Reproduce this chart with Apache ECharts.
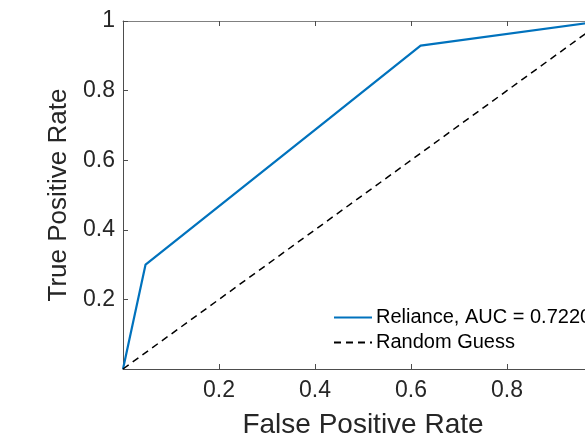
<!DOCTYPE html>
<html>
<head>
<meta charset="utf-8">
<script src="https://cdn.jsdelivr.net/npm/echarts@6/dist/echarts.min.js"></script>
<style>
html,body{margin:0;padding:0;background:#fff;overflow:hidden;width:585px;height:438px;}
#chart{width:640px;height:438px;}
</style>
</head>
<body>
<div id="chart"></div>
<script>
// ROC curve points
const fpr = [0, 0.047, 0.43, 0.62, 1];
const tpr = [0, 0.30, 0.72, 0.929, 1];
// Random guess diagonal
const guessX = [0, 1];
const guessY = [0, 1];
const seriesNames = ['Reliance, AUC = 0.7220', 'Random Guess'];
const xTitle = 'False Positive Rate';
const yTitle = 'True Positive Rate';

const font = '"Liberation Sans", Arial, sans-serif';
const txt = '#262626';
const axisCol = '#4d4d4d';

const chart = echarts.init(document.getElementById('chart'), null, {renderer: 'canvas'});
const fmt = v => (Math.abs(v) < 1e-9 ? '' : String(Math.round(v * 10) / 10));

chart.setOption({
  animation: false,
  backgroundColor: '#ffffff',
  grid: {left: 123, top: 21, width: 480, height: 348, containLabel: false, outerBoundsMode: 'none'},
  xAxis: [{
    type: 'value', min: 0, max: 1, interval: 0.2, position: 'bottom',
    name: xTitle, nameLocation: 'middle', nameGap: 56,
    nameTextStyle: {fontFamily: font, fontSize: 28, color: txt, verticalAlign: 'middle'},
    axisLine: {show: true, lineStyle: {color: axisCol, width: 1}},
    axisTick: {show: true, inside: true, length: 5, lineStyle: {color: axisCol}},
    axisLabel: {formatter: fmt, fontFamily: font, fontSize: 23, color: txt, margin: 10},
    splitLine: {show: false}
  }, {
    type: 'value', min: 0, max: 1, interval: 0.2, position: 'top',
    axisLine: {show: true, onZero: false, lineStyle: {color: '#808080', width: 1}},
    axisTick: {show: true, inside: true, length: 5, lineStyle: {color: axisCol}},
    axisLabel: {show: false},
    splitLine: {show: false}
  }],
  yAxis: [{
    type: 'value', min: 0, max: 1, interval: 0.2, position: 'left',
    name: yTitle, nameLocation: 'middle', nameGap: 63, nameRotate: 90,
    nameTextStyle: {fontFamily: font, fontSize: 26, color: txt, verticalAlign: 'middle'},
    axisLine: {show: true, lineStyle: {color: axisCol, width: 1}},
    axisTick: {show: true, inside: true, length: 5, lineStyle: {color: axisCol}},
    axisLabel: {formatter: fmt, fontFamily: font, fontSize: 23, color: txt, margin: 8},
    splitLine: {show: false}
  }, {
    type: 'value', min: 0, max: 1, interval: 0.2, position: 'right',
    axisLine: {show: true, onZero: false, lineStyle: {color: axisCol, width: 1}},
    axisTick: {show: true, inside: true, length: 5, lineStyle: {color: axisCol}},
    axisLabel: {show: false},
    splitLine: {show: false}
  }],
  legend: {
    orient: 'vertical', left: 333, top: 307,
    itemWidth: 38, itemHeight: 14, itemGap: 4, padding: 0,
    itemStyle: {opacity: 0},
    textStyle: {fontFamily: font, fontSize: 20, color: '#000', padding: [0, 0, 0, -1], lineHeight: 21},
    data: seriesNames
  },
  series: [{
    name: seriesNames[0], type: 'line', xAxisIndex: 0, yAxisIndex: 0,
    data: fpr.map((x, i) => [x, tpr[i]]),
    symbol: 'none', showSymbol: false,
    lineStyle: {color: '#0072BD', width: 2.2},
    itemStyle: {color: '#0072BD'}
  }, {
    name: seriesNames[1], type: 'line', xAxisIndex: 0, yAxisIndex: 0,
    data: guessX.map((x, i) => [x, guessY[i]]),
    symbol: 'none', showSymbol: false,
    lineStyle: {color: '#000000', width: 1.5, type: [7, 5]},
    itemStyle: {color: '#000000'}
  }]
});
</script>
</body>
</html>
